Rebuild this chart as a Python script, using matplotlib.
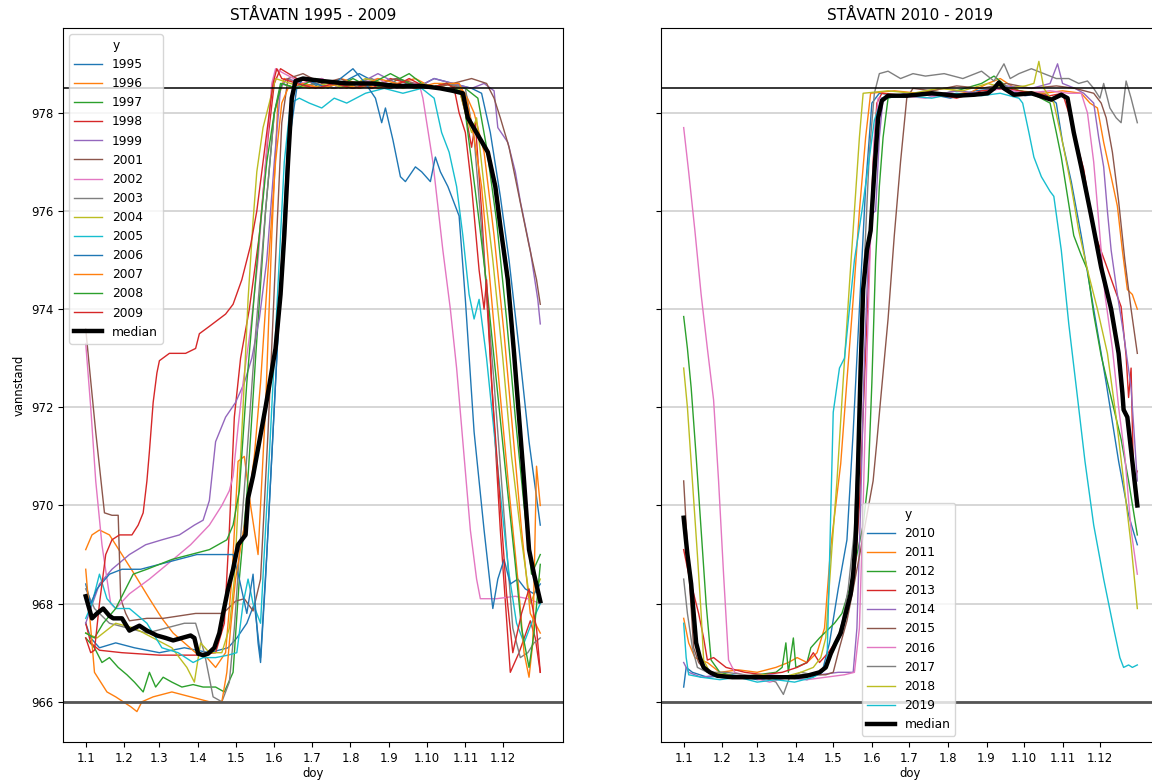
import matplotlib.pyplot as plt

# x axis: day of year, ticks on the first day of each month
month_start = [1, 32, 60, 91, 121, 152, 182, 213, 244, 274, 305, 335]
month_labels = ["1.1", "1.2", "1.3", "1.4", "1.5", "1.6",
                "1.7", "1.8", "1.9", "1.10", "1.11", "1.12"]

# vannstand per year, (doy, level)
y1995 = [(1, 967.6), (5, 967.3), (12, 967.1), (25, 967.2), (40, 967.1), (60, 967.0), (80, 967.1), (100, 967.0),
         (115, 967.1), (122, 967.3), (130, 967.6), (136, 968.0), (141, 966.9), (146, 969.0), (152, 972.0),
         (158, 975.0), (163, 977.5), (168, 978.6), (175, 978.7), (190, 978.5), (205, 978.6), (220, 978.8),
         (235, 978.6), (250, 978.7), (265, 978.5), (280, 978.7), (295, 978.6), (310, 978.5), (318, 978.4),
         (325, 977.6), (333, 976.3), (340, 975.0), (348, 973.2), (356, 971.3), (365, 969.6)]
y1996 = [(1, 969.1), (6, 969.4), (12, 969.5), (20, 969.4), (30, 969.0), (40, 968.6), (52, 968.1), (62, 967.7),
         (71, 967.4), (80, 967.2), (89, 967.0), (98, 966.9), (105, 966.7), (113, 967.0), (118, 968.5), (123, 970.9),
         (128, 971.0), (133, 970.0), (139, 969.0), (145, 972.0), (150, 975.5), (155, 978.3), (160, 978.7),
         (175, 978.6), (190, 978.5), (205, 978.7), (220, 978.6), (235, 978.5), (250, 978.6), (265, 978.7),
         (280, 978.5), (295, 978.6), (305, 978.4), (312, 978.0), (320, 977.2), (328, 975.5), (336, 973.5),
         (343, 971.5), (350, 969.5), (357, 967.8), (365, 967.4)]
y1997 = [(1, 967.3), (8, 967.1), (14, 966.8), (20, 966.9), (27, 966.7), (34, 966.55), (40, 966.4), (47, 966.2),
         (52, 966.6), (57, 966.3), (63, 966.5), (70, 966.4), (78, 966.3), (87, 966.35), (95, 966.3), (105, 966.3),
         (112, 966.2), (119, 966.6), (124, 968.5), (130, 970.2), (137, 973.0), (145, 976.0), (152, 978.0),
         (157, 978.6), (170, 978.5), (185, 978.6), (200, 978.5), (215, 978.7), (230, 978.5), (245, 978.6),
         (260, 978.8), (275, 978.5), (290, 978.6), (305, 978.5), (315, 978.3), (322, 977.3), (330, 975.8),
         (338, 973.8), (345, 971.8), (352, 970.0), (358, 968.6), (365, 969.0)]
y1998 = [(1, 967.6), (5, 967.2), (12, 967.05), (30, 967.0), (60, 966.95), (90, 966.95), (105, 967.0), (112, 967.6),
         (116, 969.5), (120, 971.8), (125, 973.0), (132, 974.0), (140, 975.5), (147, 977.5), (152, 978.6),
         (157, 978.9), (170, 978.7), (185, 978.6), (200, 978.5), (215, 978.6), (230, 978.5), (245, 978.7),
         (260, 978.6), (275, 978.5), (290, 978.6), (300, 978.5), (305, 978.0), (310, 977.3), (313, 977.8),
         (318, 976.0), (325, 973.0), (333, 969.5), (341, 966.6), (348, 967.0), (357, 967.65), (361, 967.3),
         (365, 966.6)]
y1999 = [(1, 967.6), (5, 967.9), (12, 968.4), (22, 968.7), (36, 969.0), (49, 969.2), (62, 969.3), (76, 969.4),
         (88, 969.6), (95, 969.7), (100, 970.1), (105, 971.3), (113, 971.8), (121, 972.1), (128, 972.5),
         (134, 973.0), (140, 973.8), (146, 975.0), (152, 977.0), (157, 978.5), (162, 978.7), (175, 978.6),
         (190, 978.7), (205, 978.5), (220, 978.6), (235, 978.8), (250, 978.6), (265, 978.5), (280, 978.7),
         (295, 978.6), (310, 978.5), (320, 978.6), (328, 978.45), (331, 977.7), (339, 977.4), (345, 976.8),
         (349, 976.2), (357, 975.2), (363, 974.2), (365, 973.7)]
y2001 = [(1, 973.6), (4, 972.8), (9, 971.5), (16, 969.85), (22, 969.8), (27, 969.8), (29, 968.1), (33, 967.8),
         (36, 967.65), (50, 967.7), (63, 967.7), (76, 967.75), (89, 967.8), (100, 967.8), (111, 967.8),
         (121, 968.05), (128, 968.1), (135, 967.85), (141, 968.5), (147, 971.5), (153, 975.0), (158, 977.8),
         (163, 978.7), (175, 978.8), (190, 978.6), (205, 978.7), (220, 978.5), (235, 978.6), (250, 978.7),
         (265, 978.6), (280, 978.5), (295, 978.6), (310, 978.7), (322, 978.6), (328, 978.3), (333, 977.9),
         (340, 977.3), (348, 976.3), (356, 975.3), (362, 974.6), (365, 974.1)]
y2002 = [(1, 973.3), (5, 972.0), (9, 970.5), (14, 969.2), (18, 968.5), (21, 968.0), (25, 967.9), (36, 968.2),
         (52, 968.5), (71, 968.9), (85, 969.2), (100, 969.6), (110, 970.0), (116, 970.3), (119, 970.6),
         (123, 971.6), (127, 972.5), (133, 973.6), (139, 975.0), (145, 977.0), (150, 978.6), (153, 978.9),
         (160, 978.8), (175, 978.6), (190, 978.7), (205, 978.5), (220, 978.6), (235, 978.7), (250, 978.5),
         (262, 978.6), (268, 978.6), (271, 978.3), (279, 977.0), (287, 975.2), (293, 974.0), (298, 972.8),
         (303, 971.3), (309, 969.5), (314, 968.5), (317, 968.1), (330, 968.1), (345, 968.15), (355, 968.1),
         (365, 968.0)]
y2003 = [(1, 968.3), (8, 967.9), (20, 967.6), (35, 967.5), (50, 967.4), (65, 967.5), (80, 967.6), (89, 967.6),
         (96, 967.0), (103, 966.1), (110, 966.0), (116, 966.4), (120, 967.5), (124, 969.0), (130, 971.0),
         (137, 973.5), (145, 976.0), (152, 978.0), (158, 978.6), (170, 978.5), (185, 978.6), (200, 978.5),
         (215, 978.6), (230, 978.7), (245, 978.5), (260, 978.6), (275, 978.5), (290, 978.6), (305, 978.5),
         (312, 977.5), (320, 975.0), (328, 972.5), (336, 969.8), (343, 967.5), (349, 966.9), (355, 967.0),
         (360, 967.2), (365, 967.3)]
y2004 = [(1, 967.4), (10, 967.3), (25, 967.6), (40, 967.5), (55, 967.3), (70, 967.1), (82, 966.7), (88, 966.4),
         (93, 967.2), (100, 967.0), (110, 967.0), (116, 967.5), (120, 968.5), (124, 970.5), (127, 972.0),
         (131, 974.2), (135, 975.8), (138, 976.8), (143, 977.7), (148, 978.2), (153, 978.7), (165, 978.6),
         (180, 978.5), (195, 978.6), (210, 978.5), (225, 978.7), (240, 978.6), (255, 978.5), (270, 978.6),
         (285, 978.5), (300, 978.5), (305, 978.0), (310, 977.6), (314, 977.9), (320, 976.5), (327, 975.0),
         (335, 973.0), (342, 971.0), (350, 969.3), (357, 968.0), (365, 968.5)]
y2005 = [(1, 967.7), (6, 968.0), (12, 968.6), (18, 968.1), (25, 967.9), (36, 967.9), (50, 967.6), (62, 967.1),
         (75, 967.0), (87, 966.8), (95, 966.9), (105, 966.9), (115, 966.95), (122, 967.0), (127, 968.0),
         (131, 968.5), (135, 968.0), (141, 967.6), (146, 970.0), (151, 972.5), (156, 975.0), (160, 977.0),
         (165, 978.2), (172, 978.3), (180, 978.2), (190, 978.1), (200, 978.3), (210, 978.2), (225, 978.4),
         (240, 978.5), (255, 978.4), (270, 978.5), (280, 978.3), (286, 977.6), (292, 977.2), (298, 976.5),
         (303, 975.5), (308, 974.3), (312, 973.8), (316, 974.2), (322, 973.0), (328, 971.5), (334, 970.0),
         (340, 968.6), (346, 967.6), (352, 967.2), (358, 967.6), (365, 968.0)]
y2006 = [(1, 968.4), (5, 968.0), (10, 968.3), (20, 968.6), (30, 968.7), (45, 968.7), (60, 968.8), (75, 968.9),
         (90, 969.0), (105, 969.0), (119, 969.0), (124, 968.5), (130, 967.8), (135, 968.6), (139, 967.2),
         (141, 966.8), (145, 968.5), (150, 971.0), (155, 973.5), (160, 975.8), (165, 977.6), (170, 978.5),
         (175, 978.7), (185, 978.6), (195, 978.5), (205, 978.7), (215, 978.9), (225, 978.6), (233, 978.3),
         (238, 977.8), (241, 978.1), (247, 977.45), (253, 976.7), (257, 976.6), (265, 976.9), (270, 976.8),
         (277, 976.6), (281, 977.1), (285, 976.8), (291, 976.5), (297, 976.1), (300, 975.9), (305, 974.2),
         (312, 971.5), (320, 969.5), (327, 967.9), (331, 968.5), (336, 968.9), (341, 968.4), (347, 968.5),
         (353, 968.3), (360, 968.2), (365, 968.4)]
y2007 = [(1, 968.7), (4, 967.8), (8, 966.6), (18, 966.2), (25, 966.1), (31, 966.0), (37, 965.9), (42, 965.8),
         (46, 966.0), (55, 966.1), (70, 966.2), (85, 966.1), (100, 966.0), (110, 966.0), (114, 966.6),
         (117, 967.5), (121, 968.5), (126, 969.3), (131, 970.0), (136, 971.0), (141, 972.5), (147, 974.8),
         (153, 977.0), (158, 978.2), (163, 978.5), (175, 978.6), (190, 978.5), (205, 978.6), (220, 978.5),
         (235, 978.7), (250, 978.6), (265, 978.5), (280, 978.6), (300, 978.6), (306, 978.3), (312, 977.5),
         (318, 976.5), (325, 974.5), (332, 972.5), (340, 970.3), (347, 968.5), (352, 967.0), (356, 966.5),
         (359, 967.2), (362, 970.8), (365, 970.0)]
y2008 = [(1, 967.4), (8, 967.3), (15, 967.6), (25, 967.9), (39, 968.6), (50, 968.7), (60, 968.8), (70, 968.9),
         (85, 969.0), (100, 969.1), (114, 969.3), (119, 969.6), (124, 970.3), (130, 972.5), (135, 974.0),
         (140, 975.5), (146, 977.0), (152, 978.0), (158, 978.6), (170, 978.5), (185, 978.7), (200, 978.6),
         (215, 978.5), (230, 978.6), (245, 978.8), (260, 978.6), (275, 978.5), (290, 978.6), (303, 978.4),
         (310, 977.0), (316, 975.8), (322, 974.5), (330, 972.5), (338, 970.5), (345, 968.8), (350, 967.5),
         (356, 966.7), (360, 967.4), (365, 968.8)]
y2009 = [(1, 967.3), (5, 967.0), (8, 967.05), (12, 968.0), (17, 969.0), (22, 969.3), (28, 969.4), (38, 969.4),
         (43, 969.6), (47, 969.85), (50, 970.5), (52, 971.1), (55, 972.1), (58, 972.7), (60, 972.95), (68, 973.1),
         (81, 973.1), (89, 973.2), (92, 973.5), (100, 973.65), (113, 973.9), (119, 974.1), (126, 974.6),
         (133, 975.3), (138, 976.0), (143, 977.0), (147, 977.8), (151, 978.6), (154, 978.9), (158, 978.7),
         (170, 978.6), (185, 978.5), (200, 978.6), (215, 978.5), (230, 978.6), (245, 978.5), (260, 978.7),
         (275, 978.5), (290, 978.6), (296, 978.5), (300, 978.0), (305, 977.6), (310, 976.5), (316, 974.8),
         (320, 974.0), (322, 974.6), (326, 972.5), (333, 970.0), (338, 968.2), (343, 967.0), (350, 967.8),
         (356, 968.3), (362, 967.5), (365, 966.6)]
median_1995_2009 = [(1, 968.15), (6, 967.7), (10, 967.8), (15, 967.9), (20, 967.75), (23, 967.7), (30, 967.7),
                    (36, 967.45), (44, 967.55), (50, 967.45), (58, 967.35), (65, 967.3), (71, 967.25), (78, 967.3),
                    (85, 967.35), (88, 967.3), (91, 966.98), (95, 966.95), (99, 966.98), (104, 967.1), (108, 967.4),
                    (111, 967.8), (115, 968.3), (119, 968.7), (123, 969.2), (126, 969.3), (129, 969.4),
                    (131, 970.15), (135, 970.6), (140, 971.3), (145, 972.0), (149, 972.6), (153, 973.2),
                    (157, 974.3), (160, 975.5), (163, 977.0), (166, 978.3), (169, 978.65), (175, 978.7),
                    (190, 978.65), (210, 978.6), (230, 978.6), (250, 978.55), (270, 978.55), (285, 978.5),
                    (295, 978.45), (303, 978.4), (307, 977.9), (315, 977.55), (323, 977.2), (329, 976.5),
                    (333, 975.7), (339, 974.6), (344, 973.1), (348, 971.8), (352, 970.5), (356, 969.1),
                    (360, 968.6), (365, 968.05)]

y2010 = [(1, 966.3), (3, 966.7), (8, 966.6), (20, 966.5), (40, 966.55), (60, 966.45), (80, 966.5), (100, 966.45),
         (112, 966.6), (118, 967.2), (125, 968.3), (132, 969.3), (137, 971.5), (142, 974.0), (147, 976.5),
         (152, 978.2), (158, 978.4), (175, 978.35), (195, 978.4), (215, 978.3), (235, 978.45), (255, 978.5),
         (275, 978.35), (290, 978.4), (300, 978.2), (305, 977.4), (312, 976.6), (320, 975.5), (330, 974.0),
         (340, 972.5), (350, 970.9), (358, 969.8), (365, 969.2)]
y2011 = [(1, 967.7), (5, 967.2), (10, 966.9), (14, 966.85), (20, 966.8), (30, 966.6), (45, 966.65), (60, 966.6),
         (75, 966.7), (85, 966.8), (92, 966.9), (100, 966.8), (108, 967.0), (114, 967.5), (119, 969.15),
         (123, 970.0), (127, 970.85), (132, 972.55), (137, 974.2), (142, 976.0), (147, 977.5), (151, 978.4),
         (170, 978.45), (190, 978.4), (210, 978.5), (230, 978.4), (245, 978.6), (255, 978.7), (270, 978.45),
         (290, 978.4), (305, 978.45), (320, 978.4), (327, 978.2), (333, 978.1), (338, 977.4), (344, 976.7),
         (349, 976.1), (353, 975.2), (357, 974.4), (361, 974.3), (365, 974.0)]
y2012 = [(1, 973.85), (4, 973.2), (7, 972.4), (11, 971.0), (15, 969.5), (19, 968.0), (23, 966.85), (30, 966.6),
         (45, 966.5), (60, 966.55), (75, 966.6), (80, 966.7), (83, 967.2), (85, 966.6), (89, 967.3), (91, 966.7),
         (100, 966.8), (103, 967.1), (110, 967.3), (116, 967.45), (122, 967.6), (128, 967.8), (134, 968.3),
         (140, 969.0), (145, 969.6), (149, 970.5), (152, 972.5), (155, 975.0), (158, 976.5), (161, 977.5),
         (165, 978.3), (180, 978.4), (200, 978.35), (220, 978.45), (240, 978.6), (250, 978.75), (262, 978.5),
         (280, 978.4), (295, 978.2), (300, 977.6), (304, 977.1), (309, 976.3), (314, 975.5), (320, 975.1),
         (325, 974.8), (330, 973.9), (336, 973.05), (344, 972.2), (352, 971.35), (358, 970.5), (365, 969.4)]
y2013 = [(1, 969.1), (5, 968.6), (9, 968.2), (13, 967.8), (17, 967.3), (20, 966.85), (25, 966.9), (35, 966.7),
         (50, 966.6), (65, 966.55), (80, 966.6), (92, 966.7), (100, 966.8), (105, 967.0), (110, 966.8),
         (117, 967.0), (125, 967.3), (132, 967.8), (138, 968.5), (142, 970.0), (146, 972.5), (150, 975.0),
         (153, 977.0), (156, 978.2), (160, 978.4), (180, 978.35), (200, 978.4), (220, 978.3), (240, 978.45),
         (260, 978.5), (280, 978.4), (295, 978.35), (305, 978.4), (310, 978.0), (315, 977.5), (322, 976.85),
         (326, 976.2), (330, 975.6), (340, 974.9), (347, 974.4), (352, 974.05), (356, 973.05), (358, 972.2),
         (360, 972.8), (362, 970.5), (365, 970.7)]
y2014 = [(1, 966.8), (5, 966.6), (15, 966.5), (30, 966.55), (50, 966.5), (70, 966.55), (90, 966.5), (110, 966.55),
         (125, 966.6), (133, 966.6), (137, 966.6), (140, 967.5), (143, 970.0), (146, 973.0), (149, 975.0),
         (152, 975.95), (155, 976.0), (158, 977.5), (161, 978.3), (180, 978.4), (200, 978.35), (220, 978.45),
         (240, 978.4), (260, 978.55), (280, 978.5), (295, 978.6), (301, 979.0), (305, 978.6), (315, 978.5),
         (322, 978.4), (330, 978.2), (334, 977.5), (338, 976.9), (341, 976.0), (344, 975.2), (349, 974.3),
         (354, 973.5), (360, 972.4), (365, 970.5)]
y2015 = [(1, 970.5), (3, 969.6), (6, 968.3), (9, 967.1), (13, 966.8), (20, 966.6), (40, 966.5), (60, 966.55),
         (80, 966.5), (100, 966.55), (115, 966.55), (121, 966.6), (126, 967.1), (132, 967.65), (137, 968.3),
         (143, 969.1), (148, 969.8), (153, 970.5), (156, 971.3), (159, 972.15), (165, 973.8), (170, 975.5),
         (175, 977.0), (180, 978.3), (185, 978.5), (200, 978.45), (220, 978.55), (240, 978.5), (260, 978.6),
         (280, 978.5), (300, 978.55), (315, 978.5), (330, 978.4), (336, 978.2), (340, 977.9), (345, 977.2),
         (350, 976.2), (355, 975.0), (360, 974.0), (365, 973.1)]
y2016 = [(1, 977.7), (5, 976.8), (10, 975.6), (15, 974.3), (20, 973.2), (25, 972.15), (29, 970.5), (33, 968.6),
         (37, 966.85), (42, 966.6), (55, 966.5), (70, 966.4), (85, 966.5), (100, 966.45), (115, 966.5),
         (130, 966.55), (138, 966.6), (142, 967.5), (145, 970.0), (148, 973.0), (151, 975.5), (154, 977.5),
         (157, 978.3), (175, 978.35), (195, 978.3), (215, 978.4), (235, 978.35), (255, 978.5), (275, 978.4),
         (295, 978.45), (310, 978.4), (320, 978.4), (325, 978.0), (330, 977.0), (335, 975.5), (339, 974.3),
         (345, 973.2), (350, 972.0), (355, 971.0), (360, 969.5), (365, 968.6)]
y2017 = [(1, 968.5), (4, 967.8), (8, 967.1), (12, 966.7), (20, 966.6), (35, 966.6), (50, 966.55), (65, 966.5),
         (75, 966.4), (81, 966.15), (86, 966.5), (95, 966.6), (105, 966.55), (115, 966.7), (122, 967.1),
         (128, 967.6), (133, 968.3), (138, 969.5), (142, 972.0), (146, 975.0), (150, 977.2), (154, 978.4),
         (158, 978.8), (165, 978.85), (175, 978.7), (185, 978.8), (195, 978.75), (210, 978.8), (225, 978.7),
         (240, 978.85), (250, 978.65), (258, 979.0), (263, 978.7), (270, 978.8), (280, 978.9), (290, 978.8),
         (300, 978.7), (310, 978.7), (318, 978.6), (325, 978.65), (330, 978.5), (335, 978.3), (338, 978.6),
         (343, 978.1), (348, 977.9), (352, 977.8), (356, 978.65), (360, 978.3), (365, 977.8)]
y2018 = [(1, 972.8), (4, 972.0), (8, 970.5), (12, 969.0), (15, 967.8), (17, 966.85), (22, 966.6), (35, 966.55),
         (50, 966.5), (65, 966.55), (80, 966.5), (95, 966.6), (105, 966.7), (111, 966.9), (115, 967.3),
         (120, 969.15), (124, 970.5), (129, 972.55), (134, 974.5), (138, 976.0), (142, 977.5), (145, 978.4),
         (165, 978.45), (185, 978.4), (205, 978.5), (225, 978.45), (245, 978.6), (260, 978.5), (275, 978.55),
         (282, 978.6), (286, 979.05), (290, 978.5), (298, 978.2), (305, 977.4), (312, 976.5), (318, 975.6),
         (325, 974.8), (333, 974.0), (341, 973.1), (348, 971.8), (354, 970.5), (360, 969.2), (365, 967.9)]
y2019 = [(1, 967.6), (3, 966.9), (5, 966.55), (15, 966.5), (30, 966.45), (45, 966.5), (60, 966.4), (75, 966.45),
         (90, 966.4), (105, 966.5), (112, 966.6), (116, 966.8), (119, 969.85), (121, 971.9), (126, 972.8),
         (130, 973.0), (134, 974.0), (138, 975.0), (144, 976.0), (149, 976.9), (154, 977.85), (160, 978.3),
         (180, 978.35), (200, 978.3), (220, 978.4), (240, 978.35), (255, 978.4), (270, 978.3), (273, 978.2),
         (278, 977.6), (282, 977.1), (288, 976.7), (295, 976.4), (298, 976.3), (304, 975.2), (310, 973.7),
         (317, 972.2), (323, 970.9), (330, 969.6), (338, 968.5), (346, 967.5), (351, 966.9), (354, 966.7),
         (358, 966.75), (361, 966.7), (365, 966.75)]
median_2010_2019 = [(1, 969.75), (4, 969.0), (7, 968.4), (9, 967.8), (11, 967.2), (14, 966.9), (17, 966.7),
                    (22, 966.6), (28, 966.53), (40, 966.5), (55, 966.5), (73, 966.5), (90, 966.5), (100, 966.53),
                    (110, 966.6), (115, 966.7), (119, 966.98), (123, 967.2), (127, 967.4), (131, 967.8),
                    (135, 968.2), (137, 968.6), (139, 969.3), (141, 970.9), (143, 972.8), (145, 974.4),
                    (148, 975.2), (151, 975.6), (154, 976.8), (157, 977.9), (160, 978.25), (165, 978.35),
                    (180, 978.35), (200, 978.4), (220, 978.35), (234, 978.37), (245, 978.4), (250, 978.5),
                    (254, 978.62), (258, 978.5), (266, 978.37), (280, 978.4), (296, 978.27), (304, 978.37),
                    (309, 978.3), (314, 977.6), (320, 976.9), (328, 975.9), (336, 974.85), (344, 974.0),
                    (350, 973.1), (353, 972.3), (354, 971.95), (357, 971.8), (361, 970.9), (365, 970.0)]

left_years = [("1995", y1995), ("1996", y1996), ("1997", y1997), ("1998", y1998), ("1999", y1999),
              ("2001", y2001), ("2002", y2002), ("2003", y2003), ("2004", y2004), ("2005", y2005),
              ("2006", y2006), ("2007", y2007), ("2008", y2008), ("2009", y2009)]
right_years = [("2010", y2010), ("2011", y2011), ("2012", y2012), ("2013", y2013), ("2014", y2014),
               ("2015", y2015), ("2016", y2016), ("2017", y2017), ("2018", y2018), ("2019", y2019)]


def draw(ax, years, median, title):
    for label, pts in years:
        d, v = zip(*pts)
        ax.plot(d, v, lw=1.0, label=label)
    d, v = zip(*median)
    ax.plot(d, v, color="black", lw=3.2, label="median")
    ax.axhline(978.5, color="black", lw=1.1)
    ax.axhline(966, color="#555555", lw=2.0)
    ax.yaxis.grid(True, color="#cfcfcf", lw=1.2)
    ax.set_axisbelow(True)
    ax.set_xticks(month_start)
    ax.set_xticklabels(month_labels)
    ax.tick_params(labelsize=8.4)
    ax.set_xlim(-17.2, 383.2)
    ax.set_ylim(965.18, 979.73)
    ax.set_xlabel("doy", fontsize=8.4, labelpad=2)
    ax.set_title(title, fontsize=11)


fig = plt.figure(figsize=(11.52, 7.8), dpi=100)
ax1 = fig.add_axes([63 / 1152, 38 / 780, 500 / 1152, 714 / 780])
ax2 = fig.add_axes([661 / 1152, 38 / 780, 499 / 1152, 714 / 780], sharey=ax1)

draw(ax1, left_years, median_1995_2009, "STÅVATN 1995 - 2009")
draw(ax2, right_years, median_2010_2019, "STÅVATN 2010 - 2019")
ax1.set_ylabel("vannstand", fontsize=8.4)
ax2.tick_params(labelleft=False)

ax1.legend(title="y", loc="upper left", fontsize=8.8, title_fontsize=8.8, handlelength=2.3)
ax2.legend(title="y", loc="lower left", bbox_to_anchor=(0.39, 0.0), fontsize=8.8, title_fontsize=8.8,
           handlelength=2.3)

fig.savefig("out.png", dpi=100)
